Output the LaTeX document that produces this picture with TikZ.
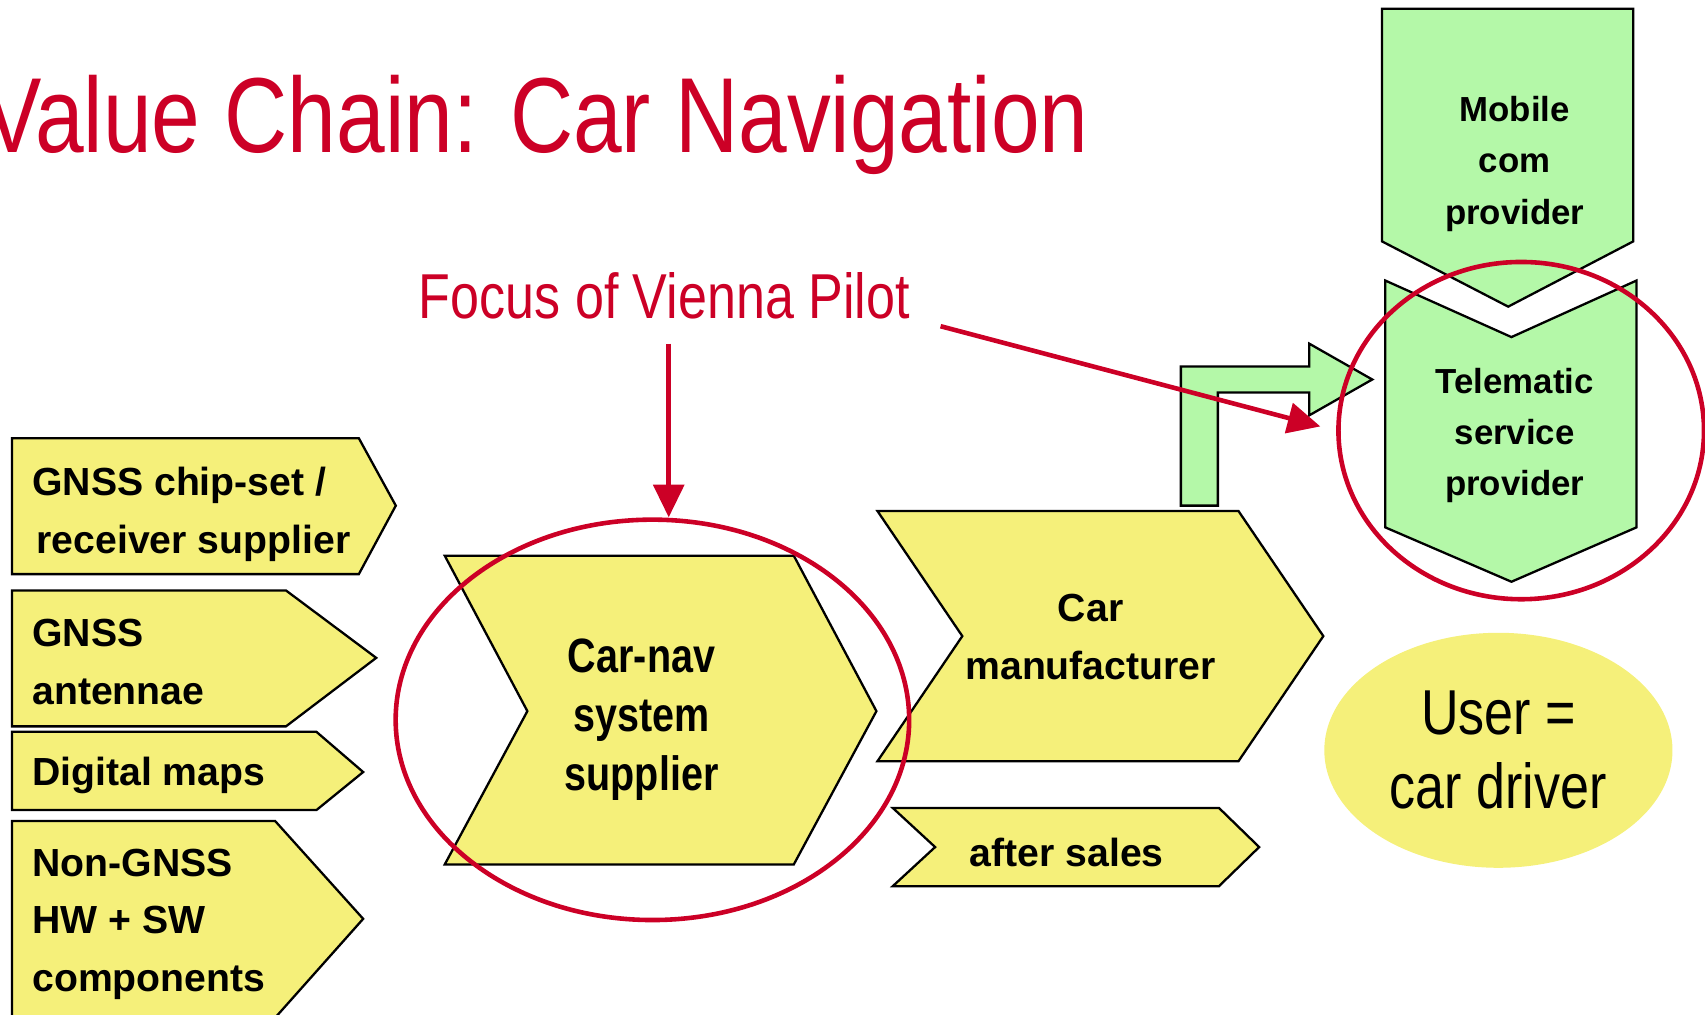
\documentclass[tikz,border=0pt]{standalone}
\usepackage{fontspec}
\setmainfont{Liberation Sans}
\newfontfamily\narrowsans[FakeStretch=0.82]{Liberation Sans}
\usetikzlibrary{arrows.meta}
\usetikzlibrary{shapes.geometric}
\usetikzlibrary{positioning}
\definecolor{chainyellow}{RGB}{245,240,122}
\definecolor{chaingreen}{RGB}{180,248,168}
\definecolor{focusred}{RGB}{204,0,38}
\tikzset{yshape/.style = {fill=chainyellow, draw=black, line width=0.6pt}}
\tikzset{gshape/.style = {fill=chaingreen, draw=black, line width=0.6pt}}
\tikzset{ring/.style = {ellipse, draw=focusred, line width=1.2pt, inner sep=0}}
\tikzset{redarrow/.style = {draw=focusred, line width=1.2pt, -{Triangle[length=3mm, width=2.8mm]}}}
\tikzset{boxtext/.style = {font=\fontsize{10.25}{15}\selectfont\bfseries, align=left, inner sep=0, anchor=north west}}
\tikzset{chaintext/.style = {font=\fontsize{10.25}{15.1}\selectfont\bfseries, align=center, inner sep=0, anchor=north}}
\tikzset{greentext/.style = {font=\fontsize{9.1}{13.4}\selectfont\bfseries, align=center, inner sep=0, anchor=north}}

\begin{document}
\begin{tikzpicture}[x=0.01cm, y=-0.01cm]
    \clip (0,0) rectangle (1568,933);

    \node [font=\narrowsans\fontsize{27.9}{30}\selectfont, text=focusred, inner sep=0, anchor=base west] (title) at (-16,140) {Value Chain: Car Navigation};
    \node [font=\narrowsans\fontsize{16.6}{18}\selectfont, text=focusred, inner sep=0, anchor=base] (focus) at (611,293) {Focus of Vienna Pilot};

    \draw [yshape] (11,403) -- (330,403) -- (364,465) -- (330,528) -- (11,528) -- cycle;
    \draw [yshape] (11,543) -- (263,543) -- (346,605) -- (263,668) -- (11,668) -- cycle;
    \draw [yshape] (11,673) -- (291,673) -- (334,710) -- (291,745) -- (11,745) -- cycle;
    \draw [yshape] (11,755) -- (253,755) -- (334,845) -- (253,936) -- (11,936) -- cycle;
    \node [boxtext] (chipset) at (29,429) {GNSS chip-set /\\\kern0.04cm receiver supplier};
    \node [boxtext] (antennae) at (29,569) {GNSS\\antennae};
    \node [boxtext] (maps) at (29,696) {Digital maps};
    \node [boxtext] (nongnss) at (29,780) {Non-GNSS\\HW + SW\\components};

    \draw [yshape] (409,511) -- (730,511) -- (806,654) -- (730,795) -- (409,795) -- (485,654) -- cycle;
    \node [chaintext, font=\narrowsans\fontsize{12.6}{15.4}\selectfont\bfseries] (carnav) at (590,587) {Car-nav\\system\\supplier};

    \draw [yshape] (807,470) -- (1139,470) -- (1217,585) -- (1139,700) -- (807,700) -- (885,585) -- cycle;
    \node [chaintext] (carmaker) at (1003,546) {Car\\manufacturer};

    \draw [yshape] (821,743) -- (1121,743) -- (1158,779) -- (1121,815) -- (821,815) -- (860,779) -- cycle;
    \node [chaintext] (aftersales) at (981,770) {after sales};

    \draw [gshape] (1271,8) -- (1502,8) -- (1502,222) -- (1387,282) -- (1271,222) -- cycle;
    \node [greentext] (mobile) at (1393,88) {Mobile\\com\\provider};

    \draw [gshape] (1274,258) -- (1390,310) -- (1505,258) -- (1505,485) -- (1390,535) -- (1274,485) -- cycle;
    \node [greentext] (telematic) at (1393,338) {Telematic\\service\\provider};

    \draw [gshape] (1086,465) -- (1086,337) -- (1204,337) -- (1204,316) -- (1262,349) -- (1204,382) -- (1204,361) -- (1120,361) -- (1120,465) -- cycle;

    \node [ellipse, fill=chainyellow, inner sep=0, minimum width=3.2cm, minimum height=2.16cm, align=center,
           font=\narrowsans\fontsize{16.6}{19.3}\selectfont] (user) at (1378,690) {User =\\car driver};

    \node [ring, minimum width=4.72cm, minimum height=3.68cm] (carnavring) at (600,662) {};
    \node [ring, minimum width=3.36cm, minimum height=3.10cm] (telering) at (1399,396) {};

    \coordinate (focusdown) at (615,316);
    \coordinate (focusside) at (865,300);
    \draw [redarrow] (focusdown) -- (focusdown |- carnavring.north);
    \draw [redarrow, shorten >=1.5mm] (focusside) -- (telering.west);
  \end{tikzpicture}
\end{document}
